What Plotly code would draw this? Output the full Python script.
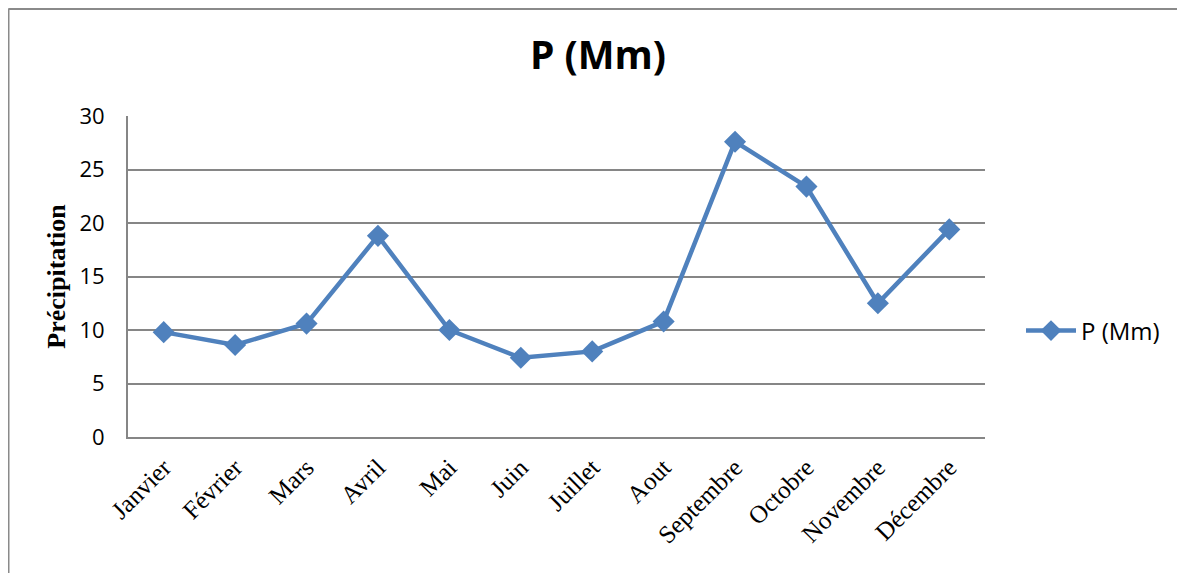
import plotly.graph_objects as go

months = ["Janvier", "Février", "Mars", "Avril", "Mai", "Juin", "Juillet",
          "Aout", "Septembre", "Octobre", "Novembre", "Décembre"]
precip = [9.8, 8.6, 10.6, 18.8, 10.0, 7.4, 8.0, 10.8, 27.6, 23.4, 12.5, 19.4]
y_ticks = [0, 5, 10, 15, 20, 25, 30]

W, H = 1185, 573
OFF = 8  # page body margin
L, T = 128 - OFF, 116 - OFF
R = W - (985 - OFF)
B = H - (437 - OFF)
pw, ph = W - L - R, H - T - B

def px(x):  # page x -> paper
    return (x - OFF - L) / pw

def py(y):  # page y -> paper
    return (H - B - (y - OFF)) / ph

SANS = "Open Sans, Liberation Sans, sans-serif"
SERIF = "Liberation Serif, Times New Roman, serif"

fig = go.Figure()
fig.add_trace(go.Scatter(
    x=months, y=precip, name="P (Mm)", mode="lines+markers",
    line=dict(color="#4F81BD", width=4.5),
    marker=dict(symbol="diamond", size=17, color="#4F81BD"),
))

fig.update_layout(
    width=W, height=H,
    margin=dict(l=L, r=R, t=T, b=B, pad=0),
    paper_bgcolor="white", plot_bgcolor="white",
    title=dict(text="<b>P (Mm)</b>", x=(598 - OFF) / W, xanchor="center",
               y=1 - (55 - OFF) / H, yanchor="middle",
               font=dict(family=SANS, size=39, color="black")),
    showlegend=True,
    legend=dict(x=px(1021), y=py(331), xanchor="left", yanchor="middle",
                font=dict(family=SANS, size=24, color="black"),
                itemwidth=50,
                bgcolor="rgba(0,0,0,0)"),
    xaxis=dict(
        type="category", range=[-0.5, 11.5],
        tickangle=-45, showgrid=False,
        showline=True, linecolor="#868686", linewidth=2,
        ticks="", ticklabelstandoff=4,
        tickfont=dict(family=SERIF, size=25, color="black"),
    ),
    yaxis=dict(
        range=[0, 30], tickvals=y_ticks,
        showgrid=True, gridcolor="#868686", gridwidth=1.5,
        showline=True, linecolor="#868686", linewidth=2,
        zeroline=False, ticks="", ticklabelstandoff=17,
        tickfont=dict(family=SANS, size=22, color="black"),
        title=dict(text="<b>Précipitation</b>", standoff=6,
                   font=dict(family=SERIF, size=26, color="black")),
    ),
    shapes=[
        dict(type="line", xref="paper", yref="paper", x0=px(8.5), x1=px(8.5), y0=py(8.5), y1=py(600),
             line=dict(color="#8a8a8a", width=2)),
        dict(type="line", xref="paper", yref="paper", x0=px(8.5), x1=px(1180), y0=py(9), y1=py(9),
             line=dict(color="#8a8a8a", width=2)),
    ],
)

fig.write_html("out.html")
